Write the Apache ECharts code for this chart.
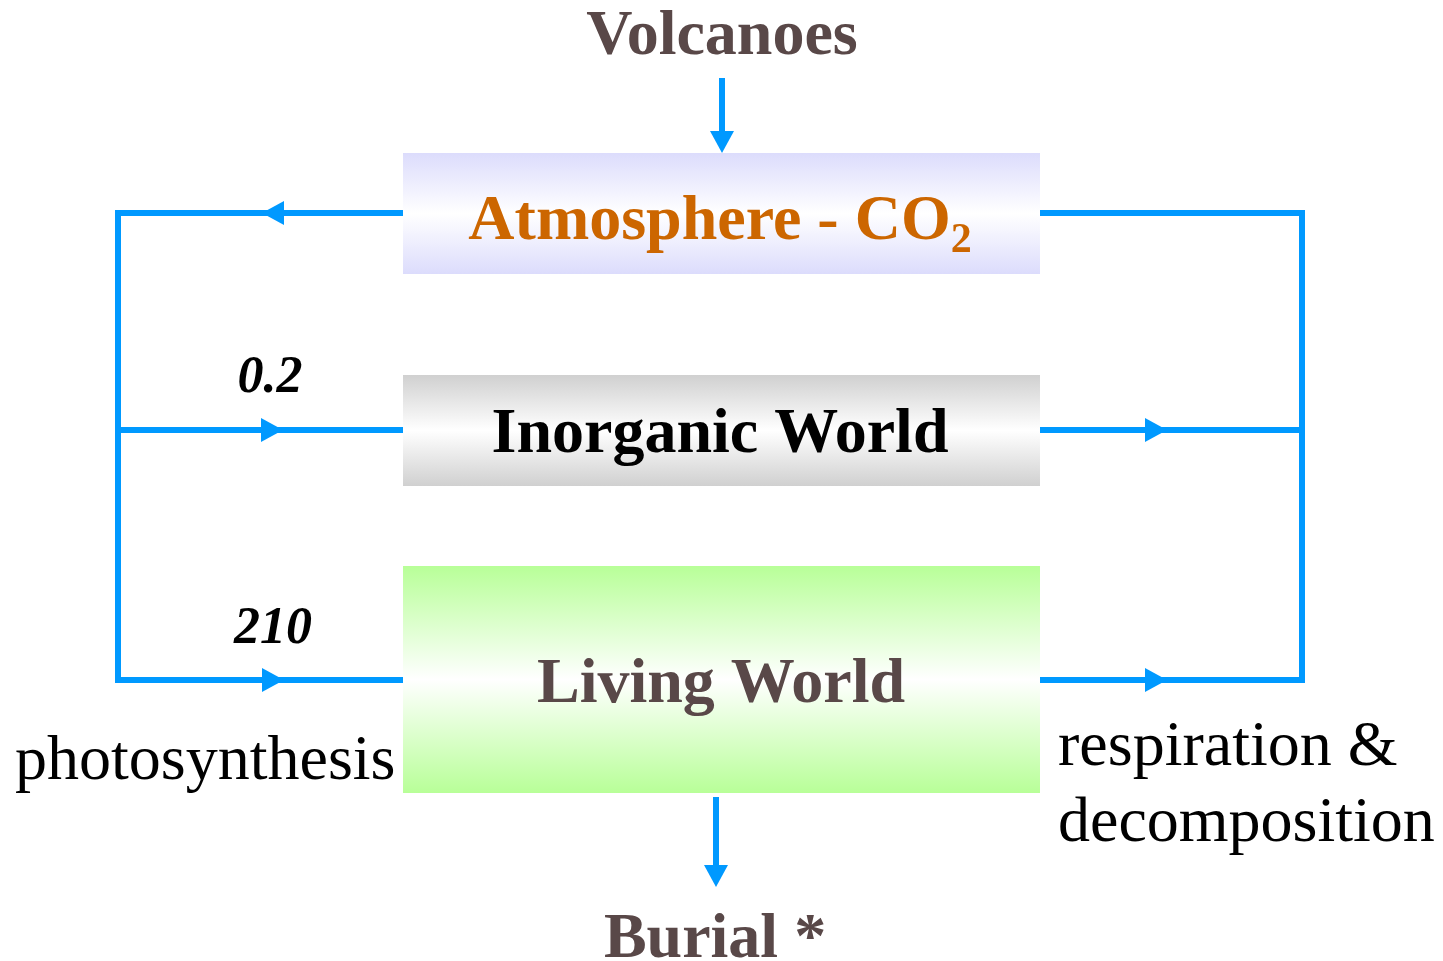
<!DOCTYPE html>
<html><head><meta charset="utf-8">
<script src="https://cdn.jsdelivr.net/npm/echarts@6/dist/echarts.min.js"></script>
<style>html,body{margin:0;padding:0;background:#fff}#chart{width:1443px;height:961px}</style>
</head><body><div id="chart"></div>
<script>
// Diagram coordinates (x 0..1443 left→right, y 0..961 top→down)
const boxLabels = ['Atmosphere - CO', 'Inorganic World', 'Living World'];
const boxSubscripts = ['2', '', ''];
const boxX0 = [403, 403, 403];
const boxX1 = [1040, 1040, 1040];
const boxY0 = [153, 375, 566];
const boxY1 = [274, 486, 793];
const boxLabelX = [720, 720, 721];
const boxLabelY = [222, 435, 685];

const flowPaths = [
  [[403, 213], [118, 213], [118, 680], [403, 680]],
  [[118, 430], [403, 430]],
  [[1040, 213], [1302, 213], [1302, 680], [1040, 680]],
  [[1040, 430], [1302, 430]],
  [[722, 78], [722, 140]],
  [[716, 797], [716, 875]]
];
const arrowTipX = [262, 283, 284, 1167, 1167, 722, 716];
const arrowTipY = [213, 430, 680, 430, 680, 153, 887];
const arrowDir = ['left', 'right', 'right', 'right', 'right', 'down', 'down'];

const labelTexts = ['Volcanoes', 'Burial *', 'photosynthesis', 'respiration &', 'decomposition', '0.2', '210'];
const labelX = [722, 715, 15, 1058, 1058, 270, 273];
const labelY = [37, 940, 762, 748, 824, 379, 630];
const labelKind = ['title', 'title', 'plain', 'plain', 'plain', 'value', 'value'];

// styles
const FONT = "'Liberation Serif', 'Times New Roman', serif";
const BLUE = '#0099ff';
const BROWN = '#594848';
const boxEdge = ['#dcdcfc', '#d0d0d0', '#b8ff98'];
const boxTextColor = ['#cc6600', '#000000', BROWN];

const chart = echarts.init(document.getElementById('chart'), null, {renderer: 'canvas'});

const option = {
  animation: false,
  backgroundColor: '#ffffff',
  grid: {left: 0, right: 0, top: 0, bottom: 0},
  xAxis: {type: 'value', min: 0, max: 1443, show: false},
  yAxis: {type: 'value', min: 0, max: 961, inverse: true, show: false},
  series: [
    {
      type: 'custom', name: 'boxes', silent: true,
      data: boxLabels.map((t, i) => [boxX0[i], boxY0[i], i]),
      renderItem: function (params, api) {
        const i = api.value(2);
        const p0 = api.coord([boxX0[i], boxY0[i]]);
        const p1 = api.coord([boxX1[i], boxY1[i]]);
        const children = [{
          type: 'rect',
          shape: {x: p0[0], y: p0[1], width: p1[0] - p0[0], height: p1[1] - p0[1]},
          style: {
            fill: new echarts.graphic.LinearGradient(0, 0, 0, 1, [
              {offset: 0, color: boxEdge[i]},
              {offset: 0.5, color: '#ffffff'},
              {offset: 1, color: boxEdge[i]}
            ])
          }
        }];
        const c = api.coord([boxLabelX[i], boxLabelY[i]]);
        const sub = boxSubscripts[i];
        children.push({
          type: 'text',
          x: c[0], y: c[1],
          style: {
            text: sub ? '{m|' + boxLabels[i] + '}{s|' + sub + '}' : '{m|' + boxLabels[i] + '}',
            align: 'center', verticalAlign: 'middle',
            rich: {
              m: {fontFamily: FONT, fontWeight: 'bold', fontSize: 64, lineHeight: 64, fill: boxTextColor[i], verticalAlign: 'top'},
              s: {fontFamily: FONT, fontWeight: 'bold', fontSize: 42, lineHeight: 42, fill: boxTextColor[i], verticalAlign: 'top', padding: [30, 0, 0, 0]}
            }
          }
        });
        return {type: 'group', children: children};
      }
    },
    {
      type: 'custom', name: 'flows', silent: true,
      data: flowPaths.map((p, i) => [p[0][0], p[0][1], i]),
      renderItem: function (params, api) {
        const i = api.value(2);
        const pts = flowPaths[i].map(p => api.coord(p));
        return {
          type: 'polyline',
          shape: {points: pts},
          style: {stroke: BLUE, lineWidth: 6, fill: null, lineJoin: 'miter', lineCap: 'butt'}
        };
      }
    },
    {
      type: 'custom', name: 'arrowheads', silent: true,
      data: arrowTipX.map((x, i) => [x, arrowTipY[i], i]),
      renderItem: function (params, api) {
        const i = api.value(2);
        const t = api.coord([arrowTipX[i], arrowTipY[i]]);
        const L = 22, H = 12;
        let pts;
        if (arrowDir[i] === 'left') pts = [[t[0], t[1]], [t[0] + L, t[1] - H], [t[0] + L, t[1] + H]];
        else if (arrowDir[i] === 'right') pts = [[t[0], t[1]], [t[0] - L, t[1] - H], [t[0] - L, t[1] + H]];
        else pts = [[t[0], t[1]], [t[0] - H, t[1] - L], [t[0] + H, t[1] - L]];
        return {type: 'polygon', shape: {points: pts}, style: {fill: BLUE}};
      }
    },
    {
      type: 'custom', name: 'labels', silent: true,
      data: labelTexts.map((t, i) => [labelX[i], labelY[i], i]),
      renderItem: function (params, api) {
        const i = api.value(2);
        const c = api.coord([labelX[i], labelY[i]]);
        const kind = labelKind[i];
        let style;
        if (kind === 'title') {
          style = {fontFamily: FONT, fontWeight: 'bold', fontSize: 64, fill: BROWN, align: 'center'};
        } else if (kind === 'plain') {
          style = {fontFamily: FONT, fontWeight: 'normal', fontSize: 64, fill: '#000000', align: 'left'};
        } else {
          style = {fontFamily: FONT, fontWeight: 'bold', fontStyle: 'italic', fontSize: 52, fill: '#000000', align: 'center'};
        }
        style.text = labelTexts[i];
        style.verticalAlign = 'middle';
        return {type: 'text', x: c[0], y: c[1], style: style};
      }
    }
  ]
};
chart.setOption(option);
</script>
</body></html>
